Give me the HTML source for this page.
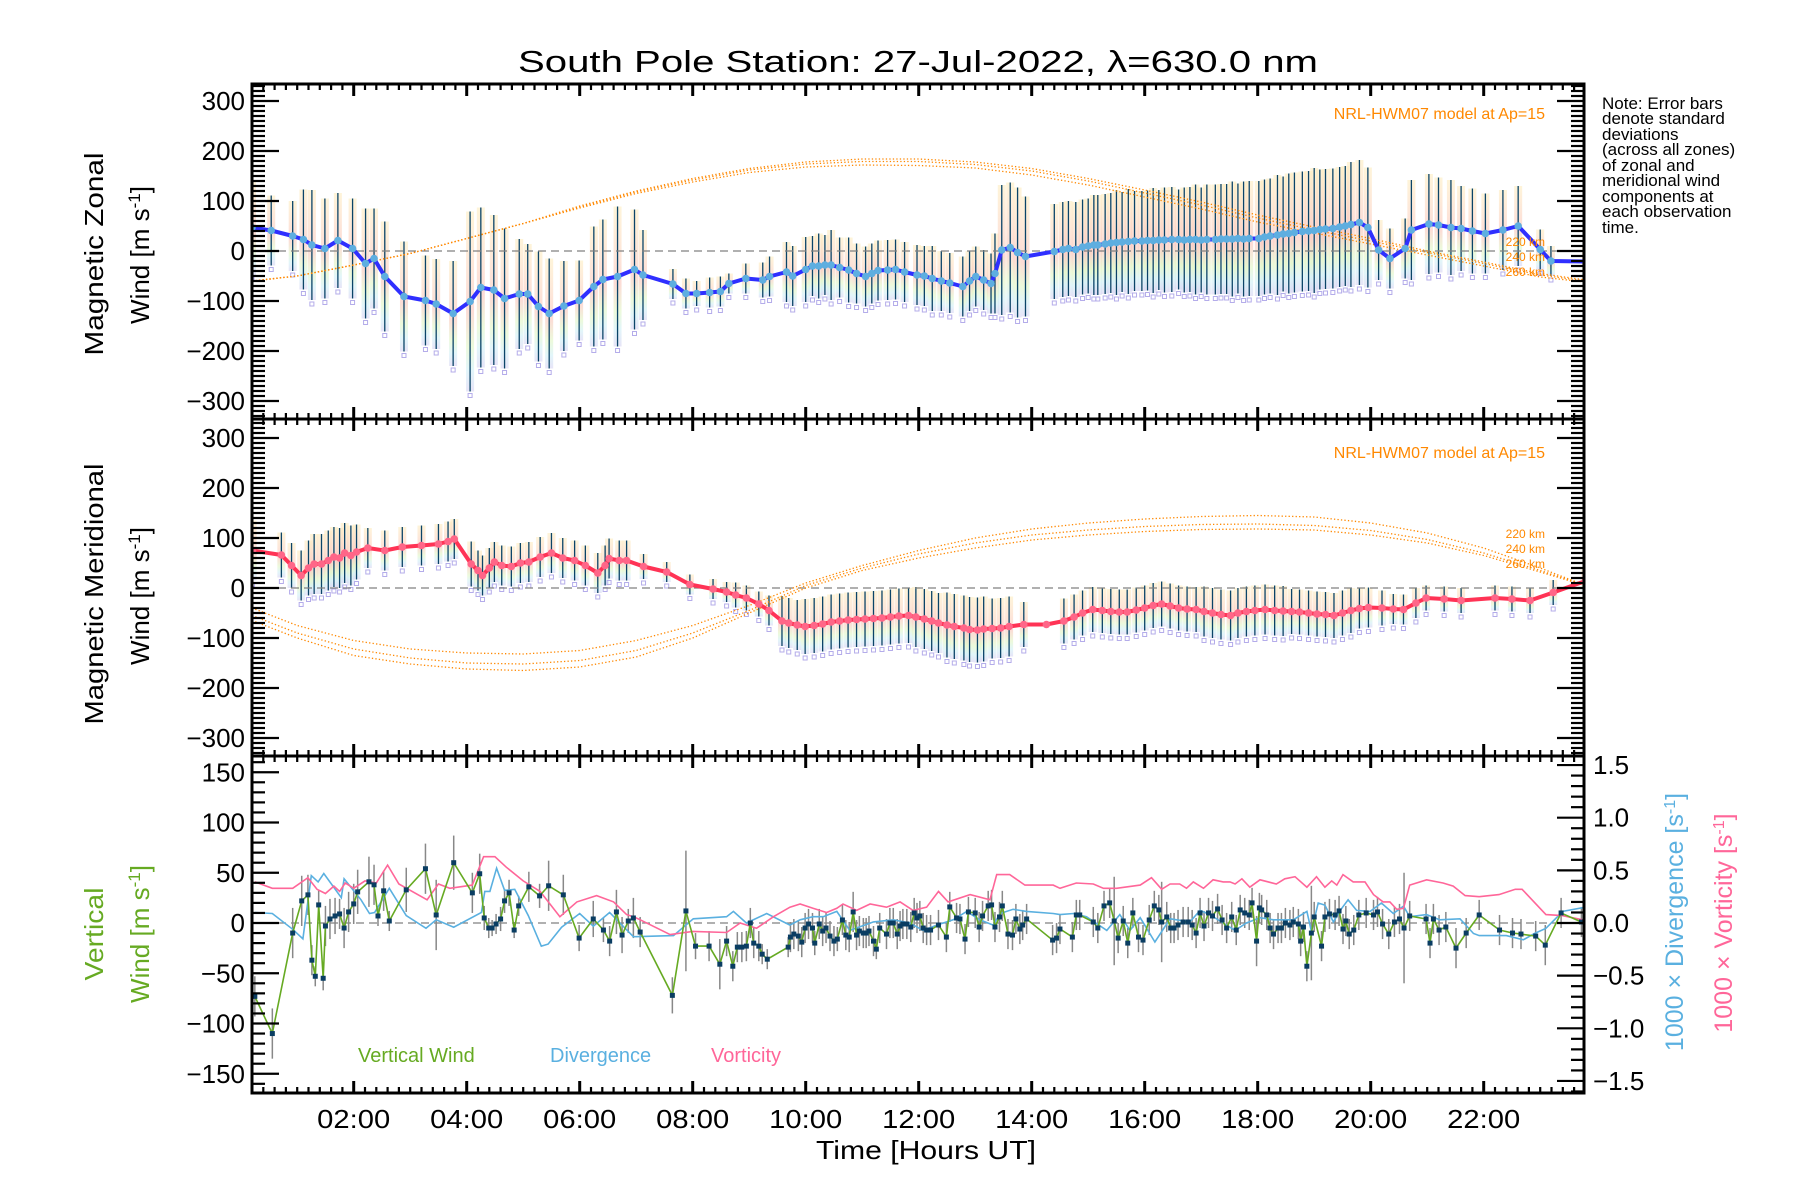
<!DOCTYPE html>
<html><head><meta charset="utf-8"><title>South Pole Station winds</title>
<style>
html,body{margin:0;padding:0;background:#fff;}
svg{display:block;font-family:"Liberation Sans",sans-serif;}
</style></head>
<body>
<svg id="chart" width="1800" height="1200" viewBox="0 0 1800 1200" xmlns="http://www.w3.org/2000/svg">
<defs>
<linearGradient id="cloud" x1="0" y1="0" x2="0" y2="1">
<stop offset="0" stop-color="#fdedc0"/><stop offset="0.3" stop-color="#fcd8c0"/><stop offset="0.55" stop-color="#fac4ba"/><stop offset="0.75" stop-color="#e0f6c4"/><stop offset="0.88" stop-color="#cfeff6"/><stop offset="1" stop-color="#d6d2f2"/>
</linearGradient>
<clipPath id="c1"><rect x="252" y="84" width="1332" height="335"/></clipPath>
<clipPath id="c2"><rect x="252" y="419" width="1332" height="337"/></clipPath>
<clipPath id="c3"><rect x="252" y="756" width="1332" height="337"/></clipPath>
</defs>
<rect x="0" y="0" width="1800" height="1200" fill="#fff"/>
<text x="918" y="72" font-size="31" text-anchor="middle" textLength="800" lengthAdjust="spacingAndGlyphs">South Pole Station: 27-Jul-2022, λ=630.0 nm</text>
<g id="p1"></g>
<g id="p2"></g>
<g id="p3"></g>
<g id="axes"></g>
<text transform="rotate(-90 103 254)" x="103" y="254" font-size="26" text-anchor="middle" textLength="203" lengthAdjust="spacingAndGlyphs">Magnetic Zonal</text>
<text transform="rotate(-90 149 255)" x="149" y="255" font-size="26" text-anchor="middle">Wind [m s<tspan font-size="17" baseline-shift="super">-1</tspan>]</text>
<text transform="rotate(-90 103 594)" x="103" y="594" font-size="26" text-anchor="middle" textLength="261" lengthAdjust="spacingAndGlyphs">Magnetic Meridional</text>
<text transform="rotate(-90 149 596)" x="149" y="596" font-size="26" text-anchor="middle">Wind [m s<tspan font-size="17" baseline-shift="super">-1</tspan>]</text>
<text transform="rotate(-90 103 934)" x="103" y="934" font-size="26" fill="#66aa22" text-anchor="middle" textLength="93" lengthAdjust="spacingAndGlyphs">Vertical</text>
<text transform="rotate(-90 149 934)" x="149" y="934" font-size="26" fill="#66aa22" text-anchor="middle">Wind [m s<tspan font-size="17" baseline-shift="super">-1</tspan>]</text>
<text transform="rotate(-90 1683 922)" x="1683" y="922" font-size="25" fill="#5ab0e0" text-anchor="middle">1000 × Divergence [s<tspan font-size="16" baseline-shift="super">-1</tspan>]</text>
<text transform="rotate(-90 1732 923)" x="1732" y="923" font-size="25" fill="#ff6699" text-anchor="middle">1000 × Vorticity [s<tspan font-size="16" baseline-shift="super">-1</tspan>]</text>
<text x="926" y="1159" font-size="26" text-anchor="middle" textLength="220" lengthAdjust="spacingAndGlyphs">Time [Hours UT]</text>
<g font-size="17">
<text x="1602" y="109">Note: Error bars</text>
<text x="1602" y="124">denote standard</text>
<text x="1602" y="140">deviations</text>
<text x="1602" y="155">(across all zones)</text>
<text x="1602" y="171">of zonal and</text>
<text x="1602" y="186">meridional wind</text>
<text x="1602" y="202">components at</text>
<text x="1602" y="217">each observation</text>
<text x="1602" y="233">time.</text>
</g>
<text x="1545" y="119" font-size="16" fill="#ff8800" text-anchor="end">NRL-HWM07 model at Ap=15</text>
<text x="1545" y="458" font-size="16" fill="#ff8800" text-anchor="end">NRL-HWM07 model at Ap=15</text>
<g font-size="12" fill="#ff8800" text-anchor="end">
<text x="1545" y="246">220 km</text><text x="1545" y="261">240 km</text><text x="1545" y="276">260 km</text></g>
<g font-size="12" fill="#ff8800" text-anchor="end">
<text x="1545" y="538">220 km</text><text x="1545" y="553">240 km</text><text x="1545" y="568">260 km</text></g>
<text x="358" y="1062" font-size="20" fill="#66aa22">Vertical Wind</text>
<text x="550" y="1062" font-size="20" fill="#5ab0e0">Divergence</text>
<text x="711" y="1062" font-size="20" fill="#ff6699">Vorticity</text>
</svg>
<script>
// ---- data ----
const modelT=[0.2,1,2,3,4,5,6,7,8,9,10,11,12,13,14,15,16,17,18,19,20,21,22,23,23.8];
const mz220=[-60,-50,-28,-5,25,55,90,120,145,165,178,184,184,178,165,145,122,98,72,48,25,0,-22,-45,-58];
const mz240=[-60,-50,-28,-5,25,55,88,118,142,162,174,179,179,173,160,140,116,92,66,42,20,-3,-25,-48,-60];
const mz260=[-60,-50,-28,-5,25,55,86,115,138,157,168,172,171,166,152,132,108,84,58,36,14,-8,-30,-52,-62];
const mm220=[-40,-75,-105,-122,-130,-132,-125,-105,-75,-35,10,45,75,100,118,130,138,143,145,142,130,110,80,40,5];
const mm240=[-55,-90,-122,-140,-150,-152,-145,-125,-90,-45,5,40,68,90,106,116,123,127,128,125,115,97,70,35,5];
const mm260=[-65,-100,-135,-152,-162,-165,-158,-138,-100,-50,0,35,60,80,96,106,113,117,118,116,106,90,65,32,5];

const zT=[0.2,0.54,0.92,1.11,1.26,1.49,1.72,1.98,2.21,2.36,2.55,2.89,3.27,3.46,3.76,4.06,4.25,4.48,4.67,4.93,5.08,5.27,5.46,5.72,5.99,6.25,6.41,6.67,6.97,7.12,7.65,7.88,8.07,8.3,8.49,8.64,8.94,9.24,9.36,9.66,9.77,10.0,10.12,10.23,10.34,10.45,10.6,10.76,10.9,11.06,11.17,11.28,11.45,11.59,11.75,11.97,12.1,12.24,12.4,12.55,12.78,12.9,13.01,13.15,13.28,13.35,13.47,13.62,13.75,13.89,14.4,14.55,14.65,14.78,14.9,15.0,15.1,15.17,15.3,15.4,15.5,15.6,15.71,15.82,15.95,16.05,16.15,16.25,16.35,16.48,16.6,16.7,16.8,16.9,17.0,17.1,17.25,17.35,17.45,17.55,17.65,17.75,17.85,18.02,18.12,18.22,18.35,18.45,18.55,18.65,18.79,18.9,19.0,19.1,19.2,19.33,19.45,19.55,19.65,19.8,19.95,20.14,20.34,20.61,20.72,21.03,21.2,21.42,21.6,21.8,22.03,22.34,22.61,23.0,23.19,23.81];
const zV=[47,41,30,23,12,5,21,5,-25,-15,-51,-91,-99,-106,-125,-101,-73,-78,-95,-86,-86,-111,-125,-110,-99,-71,-57,-51,-37,-48,-66,-85,-85,-83,-81,-65,-55,-58,-51,-42,-50,-37,-30,-30,-28,-28,-33,-38,-45,-51,-45,-39,-38,-37,-42,-48,-50,-55,-60,-64,-71,-60,-51,-58,-65,-45,2,7,-3,-11,-1,3,5,3,8,10,12,12,14,16,17,18,19,20,20,21,21,22,22,23,23,22,23,23,22,23,23,24,24,24,25,24,25,25,28,30,32,34,35,37,39,40,41,43,44,45,48,50,53,57,47,2,-15,5,42,54,52,47,45,40,35,42,50,3,-20,-21];
const zE=[95,70,70,100,110,100,95,100,110,100,110,110,90,90,105,180,160,150,140,110,100,110,110,90,80,120,120,140,120,90,30,30,25,30,30,20,30,35,40,60,60,65,60,65,60,70,60,65,60,60,60,60,60,60,60,60,60,65,60,60,60,60,60,60,60,80,130,130,130,120,95,95,95,95,95,95,100,100,100,100,105,100,105,100,100,100,105,100,105,105,100,105,105,110,105,110,110,110,110,115,110,115,115,115,115,115,120,115,120,120,120,120,125,120,120,120,120,120,125,125,120,60,60,60,100,100,95,95,85,85,80,80,80,40,30,30];

const mT=[0.21,0.72,0.9,1.07,1.2,1.3,1.43,1.55,1.65,1.75,1.84,1.95,2.05,2.25,2.55,2.86,3.2,3.5,3.67,3.78,4.08,4.2,4.28,4.4,4.49,4.62,4.79,4.95,5.1,5.3,5.5,5.7,5.91,6.1,6.32,6.45,6.52,6.7,6.83,7.13,7.54,7.95,8.36,8.6,8.76,8.95,9.17,9.35,9.58,9.7,9.85,9.99,10.15,10.3,10.45,10.6,10.75,10.9,11.05,11.2,11.35,11.5,11.65,11.82,11.95,12.1,12.23,12.35,12.5,12.63,12.8,12.9,13.04,13.15,13.3,13.45,13.6,13.86,14.26,14.57,14.75,14.9,15.08,15.25,15.4,15.55,15.69,15.85,16.0,16.15,16.3,16.45,16.6,16.75,16.91,17.05,17.2,17.35,17.52,17.65,17.8,17.95,18.13,18.3,18.45,18.6,18.74,18.9,19.05,19.2,19.35,19.5,19.65,19.8,19.96,20.2,20.4,20.58,20.8,20.98,21.3,21.6,22.2,22.5,22.82,23.23,23.8];
const mV=[75,66,45,25,40,48,48,55,62,60,70,65,72,80,75,82,85,88,93,98,48,35,25,40,52,45,43,50,52,62,70,60,55,45,30,45,59,55,55,43,32,7,-2,-8,-14,-20,-32,-45,-66,-70,-74,-77,-75,-72,-68,-66,-64,-63,-62,-61,-60,-58,-56,-55,-58,-62,-66,-70,-74,-77,-80,-83,-84,-82,-81,-80,-77,-73,-73,-66,-58,-50,-43,-45,-47,-48,-48,-44,-40,-35,-32,-36,-40,-42,-43,-47,-50,-53,-55,-50,-47,-45,-43,-45,-46,-47,-48,-50,-52,-53,-55,-50,-45,-41,-39,-40,-42,-43,-30,-20,-22,-25,-20,-22,-25,-9,14];
const mE=[60,45,45,50,55,60,60,60,60,60,60,60,55,40,40,40,40,40,40,40,45,40,40,40,40,40,40,40,40,40,40,40,40,40,40,40,40,40,40,25,20,20,20,20,25,25,25,30,50,50,50,55,55,55,55,55,55,55,55,55,55,55,55,55,60,60,60,60,65,65,65,65,65,65,60,60,60,45,0,45,45,45,45,45,45,45,45,45,45,45,45,45,45,45,45,50,50,50,50,50,50,50,50,50,50,45,45,45,45,45,45,45,45,40,40,35,30,30,30,25,25,25,25,25,25,25,25,20];

const wT=[0.25,0.56,0.92,1.08,1.19,1.26,1.32,1.38,1.46,1.5,1.58,1.67,1.75,1.83,1.91,2.0,2.07,2.27,2.36,2.43,2.53,2.63,2.93,3.27,3.46,3.77,4.1,4.23,4.31,4.39,4.45,4.52,4.6,4.67,4.75,4.84,4.92,5.1,5.29,5.45,5.71,5.99,6.24,6.42,6.53,6.65,6.75,6.86,6.95,7.07,7.64,7.88,8.05,8.29,8.48,8.6,8.71,8.79,8.87,8.95,9.02,9.08,9.17,9.23,9.32,9.69,9.73,9.79,9.87,9.93,9.99,10.05,10.12,10.16,10.24,10.3,10.36,10.43,10.5,10.56,10.65,10.71,10.77,10.84,10.9,10.95,11.02,11.07,11.12,11.2,11.25,11.31,11.43,11.49,11.55,11.62,11.67,11.72,11.79,11.86,11.92,11.97,12.02,12.08,12.14,12.21,12.35,12.49,12.55,12.67,12.73,12.82,12.88,13.0,13.07,13.13,13.23,13.29,13.35,13.43,13.48,13.58,13.66,13.72,13.79,13.84,13.91,14.37,14.44,14.5,14.72,14.79,14.85,15.09,15.17,15.28,15.38,15.46,15.53,15.62,15.7,15.79,15.89,15.97,16.08,16.17,16.25,16.3,16.39,16.46,16.52,16.59,16.68,16.77,16.84,16.91,16.98,17.05,17.13,17.2,17.29,17.37,17.45,17.54,17.62,17.69,17.77,17.85,17.9,17.98,18.03,18.07,18.16,18.22,18.28,18.36,18.42,18.49,18.57,18.63,18.72,18.76,18.81,18.87,18.95,19.0,19.13,19.19,19.27,19.37,19.44,19.51,19.56,19.62,19.7,19.79,19.92,20.05,20.12,20.21,20.32,20.42,20.51,20.59,20.69,20.98,21.05,21.11,21.21,21.33,21.51,21.69,21.92,22.28,22.51,22.66,22.92,23.09,23.37,23.73];
const wV=[-73,-110,-10,22,28,-37,-53,18,-55,-3,4,7,9,-5,11,19,31,41,38,7,32,2,33,54,8,60,30,49,5,-5,-5,-1,4,22,30,-7,17,36,27,37,28,-15,4,-7,-18,11,-12,2,5,-9,-72,12,-23,-23,-41,-18,-43,-24,-24,-23,0,-20,-23,-31,-36,-24,-14,-11,-13,-19,-5,-1,-5,-20,-1,-8,-5,-13,-18,-16,3,-12,-14,11,-12,-8,-10,-10,-8,-18,-26,-5,-11,0,0,-11,-3,-1,-1,-4,10,5,7,-5,-7,-7,-2,-14,16,5,4,-16,11,10,-4,7,17,18,-4,6,17,-11,-12,4,-6,-2,4,-17,-15,-6,-14,8,8,1,-5,17,20,2,-15,2,-20,10,-14,-17,3,17,13,1,6,-5,-5,-2,1,1,-2,-10,10,-3,10,7,14,3,-5,6,-7,13,10,8,20,-18,15,13,8,-5,-11,-5,-5,0,-2,1,-1,-18,-4,-43,-10,6,-23,6,9,8,12,-6,2,-11,-7,8,10,8,11,-1,-11,1,4,-5,7,4,-20,4,-7,-4,-25,-10,8,-7,-10,-11,-13,-22,10,1];
const wE=[20,25,25,25,20,15,10,15,12,20,20,18,15,20,20,20,22,25,20,10,20,10,22,25,35,27,20,20,12,10,8,10,12,12,13,8,10,15,12,25,20,13,18,12,15,22,18,12,20,15,18,60,13,15,25,15,15,15,15,15,15,15,15,10,10,10,15,15,15,15,15,15,15,12,15,15,15,15,15,12,15,15,15,20,15,15,15,15,15,15,10,15,15,15,15,15,15,15,15,15,15,15,15,15,15,15,15,15,15,15,15,15,15,15,15,15,15,15,15,15,15,15,15,15,15,15,15,15,15,15,15,15,15,15,15,15,15,44,15,15,15,15,15,15,15,15,15,40,15,15,15,15,15,15,15,15,15,15,15,15,15,15,15,15,15,15,15,15,15,25,15,15,15,15,15,15,15,15,15,15,15,15,15,15,47,15,15,15,15,15,15,15,15,15,15,15,15,15,15,15,15,15,15,55,15,15,15,15,15,15,20,15,15,15,15,15,15,20,15,15];

const divT=[0.25,0.56,0.92,1.1,1.25,1.37,1.47,1.78,1.83,2.13,2.28,2.37,2.63,2.93,3.28,3.46,3.77,4.26,4.32,4.41,4.53,4.67,4.85,5.09,5.32,5.44,5.68,6.0,6.24,6.53,6.95,7.66,8.01,8.6,8.72,8.95,9.31,9.72,9.9,10.13,10.31,10.55,10.78,11.2,11.55,11.84,12.08,12.32,12.61,12.85,13.08,13.32,13.44,13.67,13.91,14.38,14.5,14.74,14.97,15.33,15.56,15.74,15.92,16.18,16.45,16.8,16.98,17.15,17.39,17.6,17.8,18.04,18.28,18.63,18.87,18.95,19.07,19.19,19.34,19.46,19.6,19.75,19.99,20.19,20.4,20.58,20.69,20.99,21.22,21.58,21.82,21.92,22.4,22.7,22.9,23.1,23.4,23.8];
const divV=[0.1,0.09,-0.06,-0.15,0.45,0.39,0.47,0.24,0.42,0.22,0.09,0.1,0.33,0.07,-0.05,0.03,-0.04,0.1,0.3,0.3,0.52,0.31,0.32,0.07,-0.22,-0.2,-0.04,0.09,-0.03,0.1,-0.13,-0.12,0.04,0.06,0.11,0,0.09,-0.02,0.03,0.06,0.06,0.11,-0.07,0.01,0.03,0,-0.07,-0.02,0.03,0.11,0.03,-0.02,0.09,0.13,0.11,0.09,0.08,0.09,0.06,-0.07,0.08,-0.07,0.05,-0.18,0.04,0.01,0.12,0.08,0,-0.07,0,0.05,0.03,0.03,0.11,-0.08,0.19,0.17,0.01,0.12,0.22,0.12,0.11,0.19,0.09,0.16,0.06,0.08,0.03,0.04,-0.1,-0.12,-0.12,-0.16,-0.1,-0.05,0.11,0.15];
const vorT=[0.25,0.56,0.92,1.19,1.35,1.5,1.65,1.75,1.85,2.0,2.2,2.4,2.6,2.8,3.3,3.5,3.7,4.1,4.3,4.5,4.7,5.0,5.3,5.65,5.95,6.3,6.6,6.83,6.95,7.07,7.6,8.0,8.6,8.84,9.13,9.43,9.72,9.9,10.13,10.37,10.55,10.66,10.9,11.14,11.43,11.67,11.9,12.14,12.35,12.52,12.91,13.26,13.38,13.61,13.88,14.38,14.5,14.79,15.09,15.27,15.5,15.92,16.12,16.3,16.45,16.62,16.74,16.86,17.04,17.21,17.39,17.51,17.6,17.72,17.86,18.04,18.33,18.48,18.66,18.87,19.04,19.19,19.31,19.4,19.51,19.69,19.9,20.05,20.22,20.34,20.46,20.58,20.69,20.99,21.28,21.46,21.67,21.92,22.27,22.56,22.68,23.1,23.39,23.75];
const vorV=[0.39,0.33,0.33,0.43,0.32,0.28,0.35,0.3,0.38,0.33,0.4,0.38,0.55,0.37,0.22,0.37,0.33,0.36,0.63,0.63,0.53,0.4,0.3,0.06,0.2,0.26,0.2,0.08,0.06,0.03,-0.11,-0.08,-0.09,0,-0.05,0.06,0.15,0.18,0.14,0.1,0.14,0.18,0.12,0.18,0.15,0.2,0.12,0.15,0.3,0.2,0.27,0.22,0.46,0.46,0.36,0.36,0.33,0.38,0.37,0.33,0.33,0.36,0.43,0.32,0.37,0.37,0.33,0.39,0.33,0.41,0.39,0.39,0.37,0.42,0.34,0.41,0.37,0.42,0.44,0.34,0.44,0.34,0.4,0.36,0.46,0.39,0.39,0.27,0.2,0.2,0.13,0.14,0.36,0.41,0.38,0.35,0.26,0.25,0.27,0.32,0.32,0.08,0.07,0.03];

const yTicks1=[300,200,100,0,-100,-200,-300];
const yTicks3=[150,100,50,0,-50,-100,-150];
const rTicks=[1.5,1.0,0.5,0.0,-0.5,-1.0,-1.5];
const xTickHours=[2,4,6,8,10,12,14,16,18,20,22];
const xTickLabels=["02:00","04:00","06:00","08:00","10:00","12:00","14:00","16:00","18:00","20:00","22:00"];

// ---- scales ----
const XL=252, XR=1584;
const X=h=>XL+(h-0.2)*56.5;
const Y1=v=>251-v*0.5;
const Y2=v=>588-v*0.5;
const Y3=v=>923-v*1.005;
const YR=r=>923-r*105.3;
const NS="http://www.w3.org/2000/svg";
function el(tag,attrs,parent){const e=document.createElementNS(NS,tag);for(const k in attrs)e.setAttribute(k,attrs[k]);parent.appendChild(e);return e;}
function pts(T,V,fy){return T.map((t,i)=>X(t).toFixed(1)+","+fy(V[i]).toFixed(1)).join(" ");}

const p1=document.getElementById('p1'),p2=document.getElementById('p2'),p3=document.getElementById('p3'),ax=document.getElementById('axes');
const g1=el('g',{'clip-path':'url(#c1)'},p1);
const g2=el('g',{'clip-path':'url(#c2)'},p2);
const g3=el('g',{'clip-path':'url(#c3)'},p3);

function drawWindPanel(g,T,V,E,fy,prefix){
  for(let i=0;i<T.length;i++){
    if(E[i]<=0)continue;
    const x=X(T[i]),top=fy(V[i]+E[i]),bot=fy(V[i]-E[i]);
    const c=el('rect',{x:x-4,y:top,width:8,height:bot-top,fill:'url(#cloud)',opacity:0.6},g);
    
    
    const sq=el('rect',{x:x-2,y:bot+2,width:4,height:4,fill:'none',stroke:'#b4acea','stroke-width':1},g);
    
    
  }
  for(let i=0;i<T.length;i++){
    if(E[i]<=0)continue;
    const x=X(T[i]);
    const b=el('line',{x1:x,x2:x,y1:fy(V[i]+E[i]),y2:fy(V[i]-E[i]),stroke:'#0b4468','stroke-width':1.3},g);
    
    
  }
}
function drawModel(g,arrs,fy,prefix){
  arrs.forEach(a=>{
    const l=el('polyline',{points:pts(modelT,a,fy),fill:'none',stroke:'#ff8800','stroke-width':1.3,'stroke-dasharray':'1.3,2.2'},g);
    
    
  });
}
function zeroLine(g,fy,name){
  const z=el('line',{x1:XL,x2:XR,y1:fy(0),y2:fy(0),stroke:'#808080','stroke-width':1.3,'stroke-dasharray':'8,5'},g);
  
  
}
function meanLine(g,T,V,fy,color,dot,prefix){
  const l=el('polyline',{points:pts(T,V,fy),fill:'none',stroke:color,'stroke-width':4,'stroke-linejoin':'round'},g);
  
  
  for(let i=0;i<T.length;i++){
    const d=el('circle',{cx:X(T[i]),cy:fy(V[i]),r:3.8,fill:dot},g);
    
    
  }
}

// panel 1
drawWindPanel(g1,zT,zV,zE,Y1,'zonal');
zeroLine(g1,Y1,'zonal-zero-line');
drawModel(g1,[mz220,mz240,mz260],Y1,'zonal');
meanLine(g1,zT,zV,Y1,'#2f2fff','#5eaee0','zonal');
// panel 2
drawWindPanel(g2,mT,mV,mE,Y2,'meridional');
zeroLine(g2,Y2,'meridional-zero-line');
drawModel(g2,[mm220,mm240,mm260],Y2,'meridional');
meanLine(g2,mT,mV,Y2,'#ff3355','#ff6688','meridional');
// panel 3
zeroLine(g3,Y3,'vertical-zero-line');
for(let i=0;i<wT.length;i++){
  const x=X(wT[i]);
  const b=el('line',{x1:x,x2:x,y1:Y3(wV[i]+wE[i]),y2:Y3(wV[i]-wE[i]),stroke:'#888','stroke-width':1.5},g3);
  
  
}
const dl=el('polyline',{points:pts(divT,divV,YR),fill:'none',stroke:'#5ab0e0','stroke-width':1.6},g3);


const vl=el('polyline',{points:pts(vorT,vorV,YR),fill:'none',stroke:'#ff6699','stroke-width':1.6},g3);


const wl=el('polyline',{points:pts(wT,wV,Y3),fill:'none',stroke:'#66aa22','stroke-width':1.6},g3);


for(let i=0;i<wT.length;i++){
  const d=el('rect',{x:X(wT[i])-2.5,y:Y3(wV[i])-2.5,width:5,height:5,fill:'#0a3d62'},g3);
  
  
}

// ---- axes ----
const panels=[{top:84,bot:419,fy:Y1,ticks:yTicks1,minStep:10,maj:100,lo:-330,hi:330,name:'zonal'},
              {top:419,bot:756,fy:Y2,ticks:yTicks1,minStep:10,maj:100,lo:-330,hi:330,name:'meridional'},
              {top:756,bot:1093,fy:Y3,ticks:yTicks3,minStep:10,maj:50,lo:-160,hi:160,name:'vertical'}];
panels.forEach((P,pi)=>{
  const fr=el('rect',{x:XL,y:P.top,width:XR-XL,height:P.bot-P.top,fill:'none',stroke:'#000','stroke-width':3},ax);
  
  
  for(let v=P.lo;v<=P.hi;v+=P.minStep){
    const isMaj=(v%P.maj===0);
    const L=isMaj?27:13, y=P.fy(v);
    if(y<P.top+1||y>P.bot-1)continue;
    const t=el('line',{x1:XL,x2:XL+L,y1:y,y2:y,stroke:'#000','stroke-width':2.2},ax);
    
    
    if(pi<2){
      const t2=el('line',{x1:XR,x2:XR-L,y1:y,y2:y,stroke:'#000','stroke-width':2.2},ax);
      
      
    }
  }
  P.ticks.forEach(v=>{
    const tx=el('text',{x:245,y:P.fy(v)+9,'font-size':26,'text-anchor':'end'},ax);
    tx.textContent=(v<0?'\u2212'+(-v):String(v));
    
    
  });
  for(let k=1;k<=118;k++){
    const h=k*0.2; if(h<0.21||h>23.78)continue;
    const isMaj=(k%10===0);
    const L=isMaj?12:6, x=X(h);
    const a=el('line',{x1:x,x2:x,y1:P.top,y2:P.top+L,stroke:'#000','stroke-width':isMaj?3:2.2},ax);
    
    
    const b=el('line',{x1:x,x2:x,y1:P.bot,y2:P.bot-L,stroke:'#000','stroke-width':isMaj?3:2.2},ax);
    
    
  }
});
for(let k=-16;k<=16;k++){
  const r=k/10, y=YR(r);
  if(y<757||y>1092)continue;
  const isMaj=(k%5===0);
  const t=el('line',{x1:XR,x2:XR-(isMaj?27:13),y1:y,y2:y,stroke:'#000','stroke-width':2.2},ax);
  
  
}
rTicks.forEach(r=>{
  const tx=el('text',{x:1593,y:YR(r)+9,'font-size':26},ax);
  tx.textContent=(r<0?'\u2212'+(-r).toFixed(1):r.toFixed(1));
  
  
});
xTickHours.forEach((h,i)=>{
  const tx=el('text',{x:X(h),y:1128,'font-size':26,'text-anchor':'middle',textLength:73,lengthAdjust:'spacingAndGlyphs'},ax);
  tx.textContent=xTickLabels[i];
  
  
});
</script>
</body></html>
